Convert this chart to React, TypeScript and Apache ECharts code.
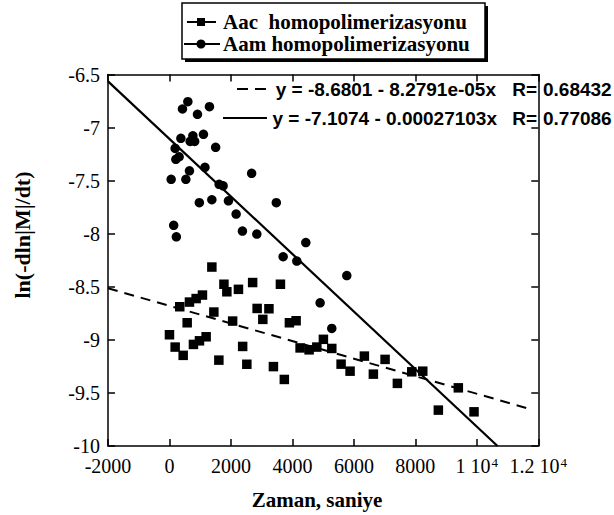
import React, { useEffect, useRef } from "react";
import * as echarts from "echarts";

// Aac homopolimerizasyonu (squares)
const aacX = [0, 185, 446, 335, 650, 868, 1073, 576, 780, 976, 1193, 1379, 1444, 1607, 1772, 1867, 2055, 2244, 2381, 2517, 2706, 2852, 3037, 3236, 3382, 3610, 3737, 3902, 4120, 4250, 4543, 4794, 5008, 5281, 5584, 5876, 6341, 6634, 7015, 7415, 7883, 8241, 8748, 9398, 9909];
const aacY = [-8.952, -9.068, -9.146, -8.688, -8.644, -8.611, -8.578, -8.839, -9.043, -9.009, -8.971, -8.314, -8.738, -9.191, -8.476, -8.547, -8.823, -8.524, -9.062, -9.23, -8.46, -8.704, -8.807, -8.707, -9.252, -8.476, -9.373, -8.839, -8.82, -9.076, -9.094, -9.068, -8.995, -9.081, -9.229, -9.295, -9.153, -9.323, -9.184, -9.41, -9.301, -9.295, -9.662, -9.452, -9.678];

// Aam homopolimerizasyonu (circles)
const aamX = [598, 423, 1301, 911, 371, 761, 673, 820, 1106, 185, 1502, 208, 315, 650, 1154, 55, 533, 1616, 1746, 2673, 972, 1379, 1919, 2169, 3476, 137, 224, 2374, 2842, 4436, 3698, 4143, 5769, 4901, 5281];
const aamY = [-6.756, -6.825, -6.803, -6.875, -7.101, -7.077, -7.131, -7.131, -7.064, -7.196, -7.186, -7.299, -7.275, -7.407, -7.375, -7.488, -7.488, -7.535, -7.549, -7.431, -7.708, -7.68, -7.69, -7.815, -7.708, -7.921, -8.029, -7.975, -8.003, -8.083, -8.217, -8.258, -8.394, -8.651, -8.892];

// Regression line end points
const aacFitX = [-2000, 11700];
const aacFitY = [-8.514, -9.649];
const aamFitX = [-2000, 10673];
const aamFitY = [-6.565, -10];

const seriesNames = ["Aac  homopolimerizasyonu", "Aam homopolimerizasyonu"];
const equations = ["y = -8.6801 - 8.2791e-05x", "y = -7.1074 - 0.00027103x"];
const rValues = ["0.68432", "0.77086"];
const xTitle = "Zaman, saniye";
const yTitle = "ln(-dln|M|/dt)";

const SERIF = "'Liberation Serif', 'Times New Roman', serif";
const SANS = "'Liberation Sans', Arial, sans-serif";

export default function App() {
  const ref = useRef<HTMLDivElement>(null);
  useEffect(() => {
    if (!ref.current) return;
    const chart = echarts.init(ref.current, null, { renderer: "svg" });
    const axisLine = { show: true, onZero: false, lineStyle: { color: "#000", width: 1.5 } };
    const axisTick = { show: true, inside: true, length: 7, lineStyle: { color: "#000", width: 1.5 } };
    const xFormatter = (v: number) => {
      if (v === 10000) return "{n|1 10}{s|4}";
      if (v === 12000) return "{n|1.2 10}{s|4}";
      return "{n|" + v + "}";
    };
    const rich = {
      n: { fontSize: 20, fontFamily: SERIF, color: "#000", lineHeight: 20 },
      s: { fontSize: 13, fontFamily: SERIF, color: "#000", lineHeight: 13, verticalAlign: "top", padding: [0, 0, 0, 1] },
    };
    const eqRows = [89, 118];
    const option: any = {
      animation: false,
      backgroundColor: "#fff",
      grid: { left: 108, right: 75.7, top: 74.5, bottom: 69, containLabel: false },
      xAxis: [
        {
          type: "value", min: -2000, max: 12000, interval: 2000, position: "bottom",
          axisLine, axisTick, splitLine: { show: false },
          axisLabel: { margin: 10, formatter: xFormatter, rich, color: "#000" },
        },
        {
          type: "value", min: -2000, max: 12000, interval: 2000, position: "top",
          axisLine, axisTick, splitLine: { show: false }, axisLabel: { show: false },
        },
      ],
      yAxis: [
        {
          type: "value", min: -10, max: -6.5, interval: 0.5, position: "left",
          axisLine, axisTick, splitLine: { show: false },
          axisLabel: { margin: 8, fontSize: 20, fontFamily: SERIF, color: "#000" },
        },
        {
          type: "value", min: -10, max: -6.5, interval: 0.5, position: "right",
          axisLine, axisTick, splitLine: { show: false }, axisLabel: { show: false },
        },
      ],
      series: [
        {
          type: "scatter", name: seriesNames[0], silent: true,
          data: aacX.map((x, i) => [x, aacY[i]]),
          symbol: "rect", symbolSize: 9.5, itemStyle: { color: "#000", opacity: 1 },
        },
        {
          type: "scatter", name: seriesNames[1], silent: true,
          data: aamX.map((x, i) => [x, aamY[i]]),
          symbol: "circle", symbolSize: 9.5, itemStyle: { color: "#000", opacity: 1 },
        },
        {
          type: "line", silent: true, symbol: "none",
          data: aacFitX.map((x, i) => [x, aacFitY[i]]),
          lineStyle: { color: "#000", width: 2, type: [10, 7] },
        },
        {
          type: "line", silent: true, symbol: "none",
          data: aamFitX.map((x, i) => [x, aamFitY[i]]),
          lineStyle: { color: "#000", width: 2.2 },
        },
      ],
      graphic: [
        // legend box with shadow
        { type: "rect", shape: { x: 185, y: 6, width: 303, height: 56 }, style: { fill: "#000" } },
        { type: "rect", shape: { x: 182, y: 3, width: 303, height: 56 }, style: { fill: "#fff", stroke: "#000", lineWidth: 1.5 } },
        { type: "line", shape: { x1: 187, y1: 22, x2: 197, y2: 22 }, style: { stroke: "#000", lineWidth: 2 } },
        { type: "line", shape: { x1: 205, y1: 22, x2: 216, y2: 22 }, style: { stroke: "#000", lineWidth: 2 } },
        { type: "rect", shape: { x: 197, y: 18, width: 8, height: 8 }, style: { fill: "#000" } },
        { type: "text", x: 223, y: 22, style: { text: seriesNames[0], font: "bold 21px " + SERIF, fill: "#000", verticalAlign: "middle", align: "left" } },
        { type: "line", shape: { x1: 184, y1: 44, x2: 220, y2: 44 }, style: { stroke: "#000", lineWidth: 2 } },
        { type: "circle", shape: { cx: 201, cy: 44, r: 4.5 }, style: { fill: "#000" } },
        { type: "text", x: 223, y: 44, style: { text: seriesNames[1], font: "bold 21px " + SERIF, fill: "#000", verticalAlign: "middle", align: "left" } },
        // regression equations
        { type: "line", shape: { x1: 237, y1: eqRows[0], x2: 268, y2: eqRows[0] }, style: { stroke: "#000", lineWidth: 2, lineDash: [11, 7] } },
        { type: "text", x: 496, y: eqRows[0], style: { text: equations[0], font: "bold 19px " + SANS, fill: "#000", verticalAlign: "middle", align: "right" } },
        { type: "text", x: 537, y: eqRows[0], style: { text: "R=", font: "bold 19px " + SANS, fill: "#000", verticalAlign: "middle", align: "right" } },
        { type: "text", x: 543, y: eqRows[0], style: { text: rValues[0], font: "bold 19px " + SANS, fill: "#000", verticalAlign: "middle", align: "left" } },
        { type: "line", shape: { x1: 223, y1: eqRows[1], x2: 267, y2: eqRows[1] }, style: { stroke: "#000", lineWidth: 2 } },
        { type: "text", x: 497, y: eqRows[1], style: { text: equations[1], font: "bold 19px " + SANS, fill: "#000", verticalAlign: "middle", align: "right" } },
        { type: "text", x: 537, y: eqRows[1], style: { text: "R=", font: "bold 19px " + SANS, fill: "#000", verticalAlign: "middle", align: "right" } },
        { type: "text", x: 543, y: eqRows[1], style: { text: rValues[1], font: "bold 19px " + SANS, fill: "#000", verticalAlign: "middle", align: "left" } },
        // axis titles
        { type: "text", x: 317, y: 500, style: { text: xTitle, font: "bold 21px " + SERIF, fill: "#000", verticalAlign: "middle", align: "center" } },
        { type: "text", x: 22, y: 235, rotation: Math.PI / 2, style: { text: yTitle, font: "bold 22px " + SERIF, fill: "#000", verticalAlign: "middle", align: "center" } },
      ],
    };
    chart.setOption(option);
    return () => chart.dispose();
  }, []);
  return (
    <div
      ref={ref}
      style={{ position: "fixed", left: 0, top: 0, width: 614, height: 515, background: "#fff" }}
    />
  );
}
